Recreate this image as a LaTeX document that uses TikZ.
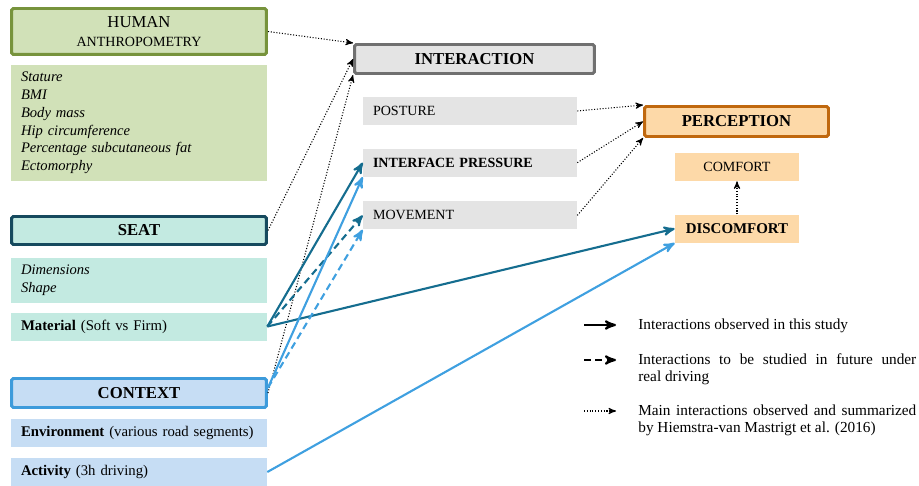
\documentclass[tikz,border=0pt]{standalone}
\usepackage{fontspec}
\setmainfont{Liberation Serif}
\usetikzlibrary{positioning, arrows}
\definecolor{humanline}{HTML}{77933C}
\definecolor{humanfill}{HTML}{D1E1B8}
\definecolor{seatline}{HTML}{164A5E}
\definecolor{seatfill}{HTML}{C3EAE1}
\definecolor{contextline}{HTML}{3D9BDB}
\definecolor{contextfill}{HTML}{C6DDF4}
\definecolor{interline}{HTML}{707070}
\definecolor{interfill}{HTML}{E4E4E4}
\definecolor{perceptline}{HTML}{C0680E}
\definecolor{perceptfill}{HTML}{FDD9A8}
\definecolor{darkteal}{HTML}{156D8F}
\definecolor{lightblue}{HTML}{3FA0E0}
\tikzset{
>=stealth', % makes the arrow heads bold
header/.style={draw, line width=1.7pt, rounded corners=1pt, align=center, font=\fontsize{9.5}{11}\selectfont\bfseries}, % framed titles
item/.style={align=left, inner xsep=0.2cm, font=\fontsize{8.4}{10.2}\selectfont},
factor/.style={item, text width=4.72cm, fill=#1}, % boxes of the left column
aspect/.style={item, text width=3.88cm, minimum height=0.56cm, fill=interfill, font=\fontsize{8}{10}\selectfont},
feeling/.style={minimum width=2.48cm, minimum height=0.56cm, fill=perceptfill, font=\fontsize{8}{10}\selectfont},
observed/.style={->, line width=1.2pt, draw=#1}, % solid arrows
future/.style={observed=#1, dash pattern=on 4pt off 2.5pt}, % dashed arrows
literature/.style={->, line width=0.6pt, densely dotted}, % dotted arrows
legend/.style={inner sep=0pt, font=\fontsize{8.7}{10.2}\selectfont},
}
\begin{document}
\begin{tikzpicture}[x=0.02cm, y=-0.02cm]
        \useasboundingbox (0,0) rectangle (919,486);

        % left column
        \node[header, draw=humanline, fill=humanfill, minimum width=5.1cm, minimum height=0.92cm, font=\fontsize{9.5}{11}\selectfont] (human) at (139,31.5) {HUMAN\\{\fontsize{8}{10}\selectfont ANTHROPOMETRY}};
        \node[factor=humanfill, minimum height=2.32cm, below=0.17cm of human, font=\fontsize{8.3}{10.2}\selectfont\itshape] (anthro) {Stature\\BMI\\Body mass\\Hip circumference\\Percentage subcutaneous fat\\Ectomorphy};

        \node[header, draw=seatline, fill=seatfill, minimum width=5.1cm, minimum height=0.56cm] (seat) at (139,230.5) {SEAT};
        \node[factor=seatfill, minimum height=0.9cm, below=0.23cm of seat, font=\fontsize{8.3}{10.2}\selectfont\itshape] (shape) {Dimensions\\Shape};
        \node[factor=seatfill, minimum height=0.56cm, below=0.18cm of shape] (material) {\textbf{Material} (Soft vs Firm)};

        \node[header, draw=contextline, fill=contextfill, minimum width=5.1cm, minimum height=0.58cm] (context) at (139,393) {CONTEXT};
        \node[factor=contextfill, minimum height=0.56cm, below=0.19cm of context] (environment) {\textbf{Environment} (various road segments)};
        \node[factor=contextfill, minimum height=0.58cm, below=0.2cm of environment] (activity) {\textbf{Activity} (3h driving)};

        % middle column
        \node[header, draw=interline, fill=interfill, minimum width=4.8cm, minimum height=0.58cm] (interaction) at (474.5,59) {INTERACTION};
        \node[aspect] (posture) at (470,111) {POSTURE};
        \node[aspect, below=0.46cm of posture, font=\fontsize{8}{10}\selectfont\bfseries] (pressure) {INTERFACE PRESSURE};
        \node[aspect, below=0.48cm of pressure] (movement) {MOVEMENT};

        % right column
        \node[header, draw=perceptline, fill=perceptfill, minimum width=3.68cm, minimum height=0.6cm] (perception) at (736.5,121.5) {PERCEPTION};
        \node[feeling] (comfort) at (737,167) {COMFORT};
        \node[feeling, below=0.66cm of comfort, font=\fontsize{8.5}{10}\selectfont\bfseries] (discomfort) {DISCOMFORT};

        % interactions
        \draw[literature] (human.east) -- (interaction.north west);
        \draw[literature] (seat.east) -- (interaction.west);
        \draw[literature] (context.east) -- (interaction.south west);
        \draw[literature] (posture.east) -- (perception.north west);
        \draw[literature] (pressure.east) -- (perception.west);
        \draw[literature] (movement.east) -- (perception.south west);
        \draw[literature] (discomfort.north) -- (comfort.south);

        \draw[observed=darkteal] (material.east) -- (pressure.west);
        \draw[future=darkteal] (material.east) -- (movement.west);
        \draw[observed=darkteal] (material.east) -- (discomfort.west);
        \draw[observed=lightblue] ([yshift=3pt]context.east) -- (pressure.south west);
        \draw[future=lightblue] ([yshift=3pt]context.east) -- (movement.south west);
        \draw[observed=lightblue] (activity.east) -- (discomfort.south west);

        % legend
        \coordinate (solidA) at (584,325);
        \coordinate (solidB) at (616,325);
        \coordinate (dashA) at (584,360);
        \coordinate (dashB) at (616,360);
        \coordinate (dotA) at (584,411);
        \coordinate (dotB) at (616,411);
        \draw[observed=black] (solidA) -- (solidB);
        \draw[future=black] (dashA) -- (dashB);
        \draw[literature] (dotA) -- (dotB);
        \node[legend, anchor=base west] (solidtext) at (638,329) {Interactions observed in this study};
        \node[legend, anchor=base west, text width=5.56cm, align=justify] (dashtext) at (638,364) {Interactions to be studied in future under\linebreak real driving};
        \node[legend, anchor=base west, text width=5.56cm, align=justify] (dottext) at (638,415) {Main interactions observed and summarized by Hiemstra-van Mastrigt et al. (2016)};
\end{tikzpicture}
\end{document}
